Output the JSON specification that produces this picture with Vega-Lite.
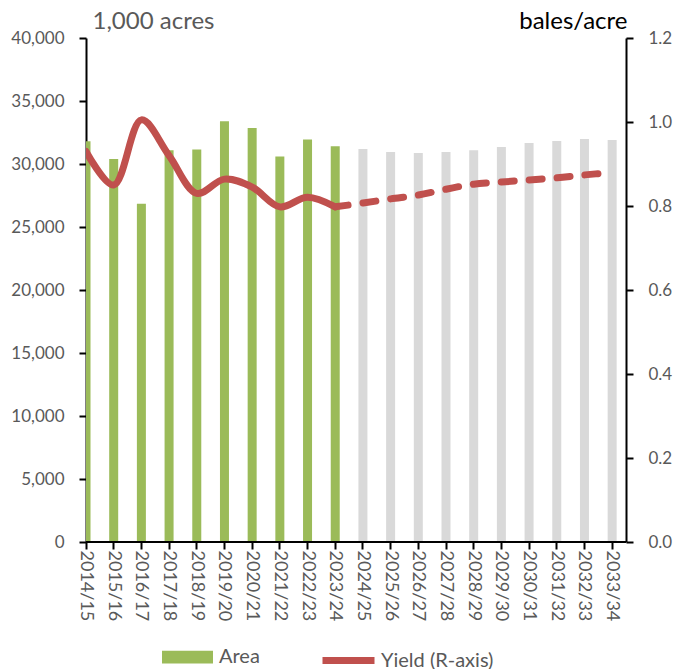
{
  "$schema": "https://vega.github.io/schema/vega-lite/v6.json",
  "width": 540,
  "height": 504,
  "autosize": {"type": "none"},
  "padding": {"left": 86, "top": 38, "right": 55, "bottom": 127},
  "config": {
    "view": {"stroke": null},
    "font": "Lato",
    "axis": {
      "grid": false,
      "labelFont": "Lato",
      "labelColor": "#595959",
      "labelFontSize": 17,
      "domainColor": "#000000",
      "domainWidth": 2,
      "tickColor": "#000000",
      "tickWidth": 2,
      "titleFont": "Lato",
      "titleFontWeight": "normal"
    },
    "legend": {
      "labelFont": "Lato",
      "labelFontSize": 20,
      "labelColor": "#595959",
      "padding": 0
    }
  },
  "data": {
    "values": [
      {"year": "2014/15", "area": 31800, "yield": 0.93, "proj": false},
      {"year": "2015/16", "area": 30400, "yield": 0.85, "proj": false},
      {"year": "2016/17", "area": 26850, "yield": 1.005, "proj": false},
      {"year": "2017/18", "area": 31100, "yield": 0.92, "proj": false},
      {"year": "2018/19", "area": 31150, "yield": 0.83, "proj": false},
      {"year": "2019/20", "area": 33400, "yield": 0.864, "proj": false},
      {"year": "2020/21", "area": 32850, "yield": 0.845, "proj": false},
      {"year": "2021/22", "area": 30600, "yield": 0.798, "proj": false},
      {"year": "2022/23", "area": 31950, "yield": 0.821, "proj": false},
      {"year": "2023/24", "area": 31400, "yield": 0.798, "proj": false},
      {"year": "2024/25", "area": 31200, "yield": 0.807, "proj": true},
      {"year": "2025/26", "area": 30950, "yield": 0.817, "proj": true},
      {"year": "2026/27", "area": 30880, "yield": 0.826, "proj": true},
      {"year": "2027/28", "area": 30950, "yield": 0.84, "proj": true},
      {"year": "2028/29", "area": 31100, "yield": 0.852, "proj": true},
      {"year": "2029/30", "area": 31350, "yield": 0.857, "proj": true},
      {"year": "2030/31", "area": 31670, "yield": 0.862, "proj": true},
      {"year": "2031/32", "area": 31830, "yield": 0.867, "proj": true},
      {"year": "2032/33", "area": 31990, "yield": 0.874, "proj": true},
      {"year": "2033/34", "area": 31900, "yield": 0.88, "proj": true}
    ]
  },
  "layer": [
    {
      "layer": [
        {
          "transform": [{"filter": "!datum.proj"}],
          "mark": {"type": "bar", "width": 9, "clip": true},
          "encoding": {
            "x": {
              "field": "year", "type": "ordinal", "sort": null,
              "scale": {"type": "band", "paddingInner": 0, "paddingOuter": 0, "range": [-13.84, 540]},
              "axis": {"title": null, "labelAngle": 90, "labelFontSize": 18, "domain": false, "tickSize": 7, "labelPadding": 1}
            },
            "y": {
              "field": "area", "type": "quantitative",
              "scale": {"domain": [0, 40000]},
              "axis": {
                "values": [0, 5000, 10000, 15000, 20000, 25000, 30000, 35000, 40000],
                "format": ",.0f",
                "title": "1,000 acres",
                "titleAngle": 0, "titleAlign": "left", "titleBaseline": "alphabetic",
                "titleX": 6, "titleY": -10, "titleFontSize": 24, "titleFontWeight": 400, "titleColor": "#595959",
                "tickSize": 7, "labelPadding": 15
              }
            },
            "fill": {
              "datum": "Area",
              "scale": {"domain": ["Area"], "range": ["#9BBB59"]},
              "legend": {
                "orient": "none", "legendX": 76, "legendY": 593.5, "title": null,
                "symbolType": "M-1,-0.25H1V0.25H-1Z", "symbolSize": 2601,
                "symbolStrokeWidth": 0, "labelOffset": 6
              }
            }
          }
        },
        {
          "transform": [{"filter": "datum.proj"}],
          "mark": {"type": "bar", "width": 9, "color": "#D9D9D9"},
          "encoding": {
            "x": {"field": "year", "type": "ordinal", "sort": null},
            "y": {"field": "area", "type": "quantitative"}
          }
        },
        {
          "mark": {"type": "rule", "color": "#000000", "strokeWidth": 2},
          "encoding": {"y": {"datum": 0}}
        }
      ]
    },
    {
      "layer": [
        {
          "transform": [{"filter": "!datum.proj"}],
          "mark": {"type": "line", "interpolate": "catmull-rom", "strokeWidth": 7, "strokeCap": "round", "clip": true},
          "encoding": {
            "x": {"field": "year", "type": "ordinal", "sort": null},
            "y": {
              "field": "yield", "type": "quantitative",
              "scale": {"domain": [0, 1.2]},
              "axis": {
                "orient": "right",
                "values": [0, 0.2, 0.4, 0.6, 0.8, 1.0, 1.2],
                "format": ".1f",
                "title": "bales/acre",
                "titleAngle": 0, "titleAlign": "right", "titleBaseline": "alphabetic",
                "titleX": 1, "titleY": -10, "titleFontSize": 24, "titleFontWeight": 400, "titleColor": "#000000",
                "tickSize": 7, "labelPadding": 15
              }
            },
            "stroke": {
              "datum": "Yield (R-axis)",
              "scale": {"domain": ["Yield (R-axis)"], "range": ["#C0504D"]},
              "legend": {
                "orient": "none", "legendX": 233, "legendY": 593, "title": null,
                "symbolType": "stroke", "symbolSize": 2704, "symbolStrokeWidth": 7,
                "labelOffset": 3
              }
            }
          }
        },
        {
          "transform": [{"filter": "datum.proj || datum.year == '2023/24'"}],
          "mark": {"type": "line", "interpolate": "catmull-rom", "strokeWidth": 7, "strokeCap": "round", "strokeDash": [13, 15], "color": "#C0504D"},
          "encoding": {
            "x": {"field": "year", "type": "ordinal", "sort": null},
            "y": {"field": "yield", "type": "quantitative"}
          }
        }
      ]
    }
  ],
  "resolve": {"scale": {"y": "independent"}}
}
